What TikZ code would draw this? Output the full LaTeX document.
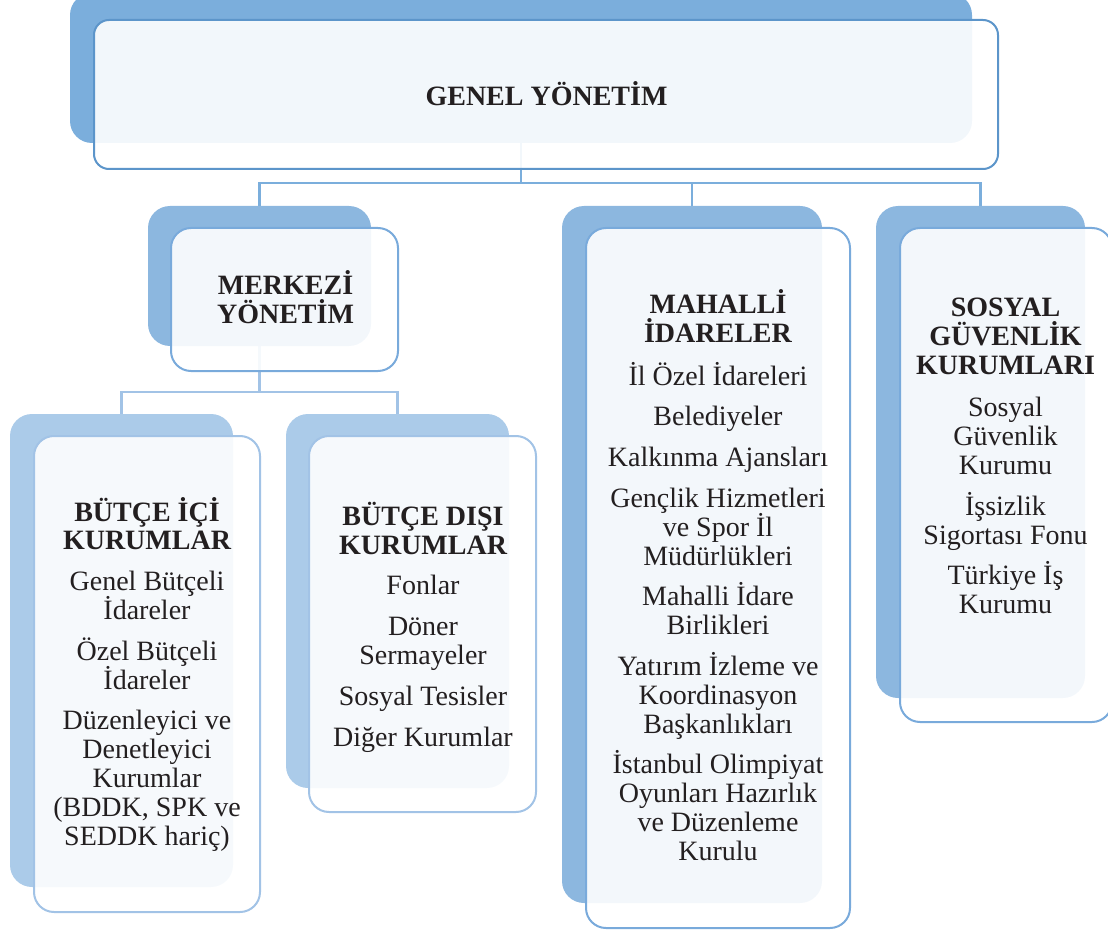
\documentclass[tikz,border=0pt]{standalone}
\usepackage{fontspec}
\setmainfont{Liberation Serif}
\usetikzlibrary{backgrounds}
\definecolor{lvlone}{HTML}{7BAEDC}
\definecolor{lvloneedge}{HTML}{5C95CA}
\definecolor{lvltwo}{HTML}{8CB7DF}
\definecolor{lvltwoedge}{HTML}{79AADB}
\definecolor{lvlthree}{HTML}{ABCBE9}
\definecolor{lvlthreeedge}{HTML}{A2C3E6}
\definecolor{textgray}{HTML}{231F20}
\lineskiplimit=-100pt
\tikzset{backbox/.style={rounded corners=22pt, inner sep=0pt},
    frontbox/.style={rounded corners=20pt, inner sep=0pt, fill=white, fill opacity=0.9, line width=2pt},
    boxtext/.style={align=center, inner sep=0pt, text=textgray,
        font=\fontsize{28}{28.8}\selectfont},
    link/.style={line width=2.4pt}}

\begin{document}
\begin{tikzpicture}[x=1pt,y=-1pt]
    \useasboundingbox (0,0) rectangle (1108,933);
    % Top level
    \node[backbox, fill=lvlone, minimum width=902pt, minimum height=150pt] (genelB) at (521,68) {};
    \node[frontbox, draw=lvloneedge, rounded corners=15pt, minimum width=904pt, minimum height=149pt] (genel) at (546,94.5) {};
    \node[boxtext, font=\fontsize{28}{28.8}\selectfont\bfseries] (genelT) at (546.5,94) {GENEL YÖNETİM};
    %
    % Second level
    \node[backbox, fill=lvltwo, minimum width=223pt, minimum height=140pt] (merkeziB) at (259.5,276) {};
    \node[frontbox, draw=lvltwoedge, minimum width=227pt, minimum height=143pt] (merkezi) at (284.5,299.5) {};
    \node[boxtext] (merkeziT) at (285.5,297) {\bfseries MERKEZİ\\ \bfseries YÖNETİM};
    %
    \node[backbox, fill=lvltwo, minimum width=260pt, minimum height=697pt] (mahalliB) at (692,554.5) {};
    \node[frontbox, draw=lvltwoedge, minimum width=264pt, minimum height=700pt] (mahalli) at (718,578) {};
    \node[boxtext] (mahalliT) at (718,575) {\bfseries MAHALLİ\\ \bfseries İDARELER\\[14pt]
        İl Özel İdareleri\\[12pt]
        Belediyeler\\[12pt]
        Kalkınma Ajansları\\[12pt]
        Gençlik Hizmetleri\\ ve Spor İl\\ Müdürlükleri\\[12pt]
        Mahalli İdare\\ Birlikleri\\[12pt]
        Yatırım İzleme ve\\ Koordinasyon\\ Başkanlıkları\\[12pt]
        İstanbul Olimpiyat\\ Oyunları Hazırlık\\ ve Düzenleme\\ Kurulu};
    %
    \node[backbox, fill=lvltwo, minimum width=209pt, minimum height=492pt] (sosyalB) at (980.5,452) {};
    \node[frontbox, draw=lvltwoedge, minimum width=212pt, minimum height=494pt] (sosyal) at (1006,475) {};
    \node[boxtext] (sosyalT) at (1005.5,456) {\bfseries SOSYAL\\ \bfseries GÜVENLİK\\ \bfseries KURUMLARI\\[14pt]
        Sosyal\\ Güvenlik\\ Kurumu\\[12pt]
        İşsizlik\\ Sigortası Fonu\\[12pt]
        Türkiye İş\\ Kurumu};
    %
    % Third level
    \node[backbox, fill=lvlthree, minimum width=223pt, minimum height=473pt] (icB) at (121.5,650.5) {};
    \node[frontbox, draw=lvlthreeedge, minimum width=226pt, minimum height=476pt] (ic) at (147,674) {};
    \node[boxtext] (icT) at (147,674) {\bfseries BÜTÇE İÇİ\\ \bfseries KURUMLAR\\[12pt]
        Genel Bütçeli\\ İdareler\\[12pt]
        Özel Bütçeli\\ İdareler\\[12pt]
        Düzenleyici ve\\ Denetleyici\\ Kurumlar\\ (BDDK, SPK ve\\ SEDDK hariç)};
    %
    \node[backbox, fill=lvlthree, minimum width=223pt, minimum height=374pt] (disB) at (397.5,601) {};
    \node[frontbox, draw=lvlthreeedge, minimum width=227pt, minimum height=376pt] (dis) at (422.5,624) {};
    \node[boxtext] (disT) at (423,627) {\bfseries BÜTÇE DIŞI\\ \bfseries KURUMLAR\\[12pt]
        Fonlar\\[12pt]
        Döner\\ Sermayeler\\[12pt]
        Sosyal Tesisler\\[12pt]
        Diğer Kurumlar};
    %
    % Connectors behind the boxes
    \begin{scope}[on background layer]
    \draw[link, lvlone] (genelB.south) -- ++(0,40) -| (merkeziB.north);
    \draw[link, lvlone] (genelB.south) -- ++(0,40) -| (mahalliB.north);
    \draw[link, lvlone] (genelB.south) -- ++(0,40) -| (sosyalB.north);
    \draw[link, lvlthreeedge] (merkeziB.south) -- ++(0,46) -| (icB.north);
    \draw[link, lvlthreeedge] (merkeziB.south) -- ++(0,46) -| (disB.north);
    \end{scope}
\end{tikzpicture}
\end{document}
